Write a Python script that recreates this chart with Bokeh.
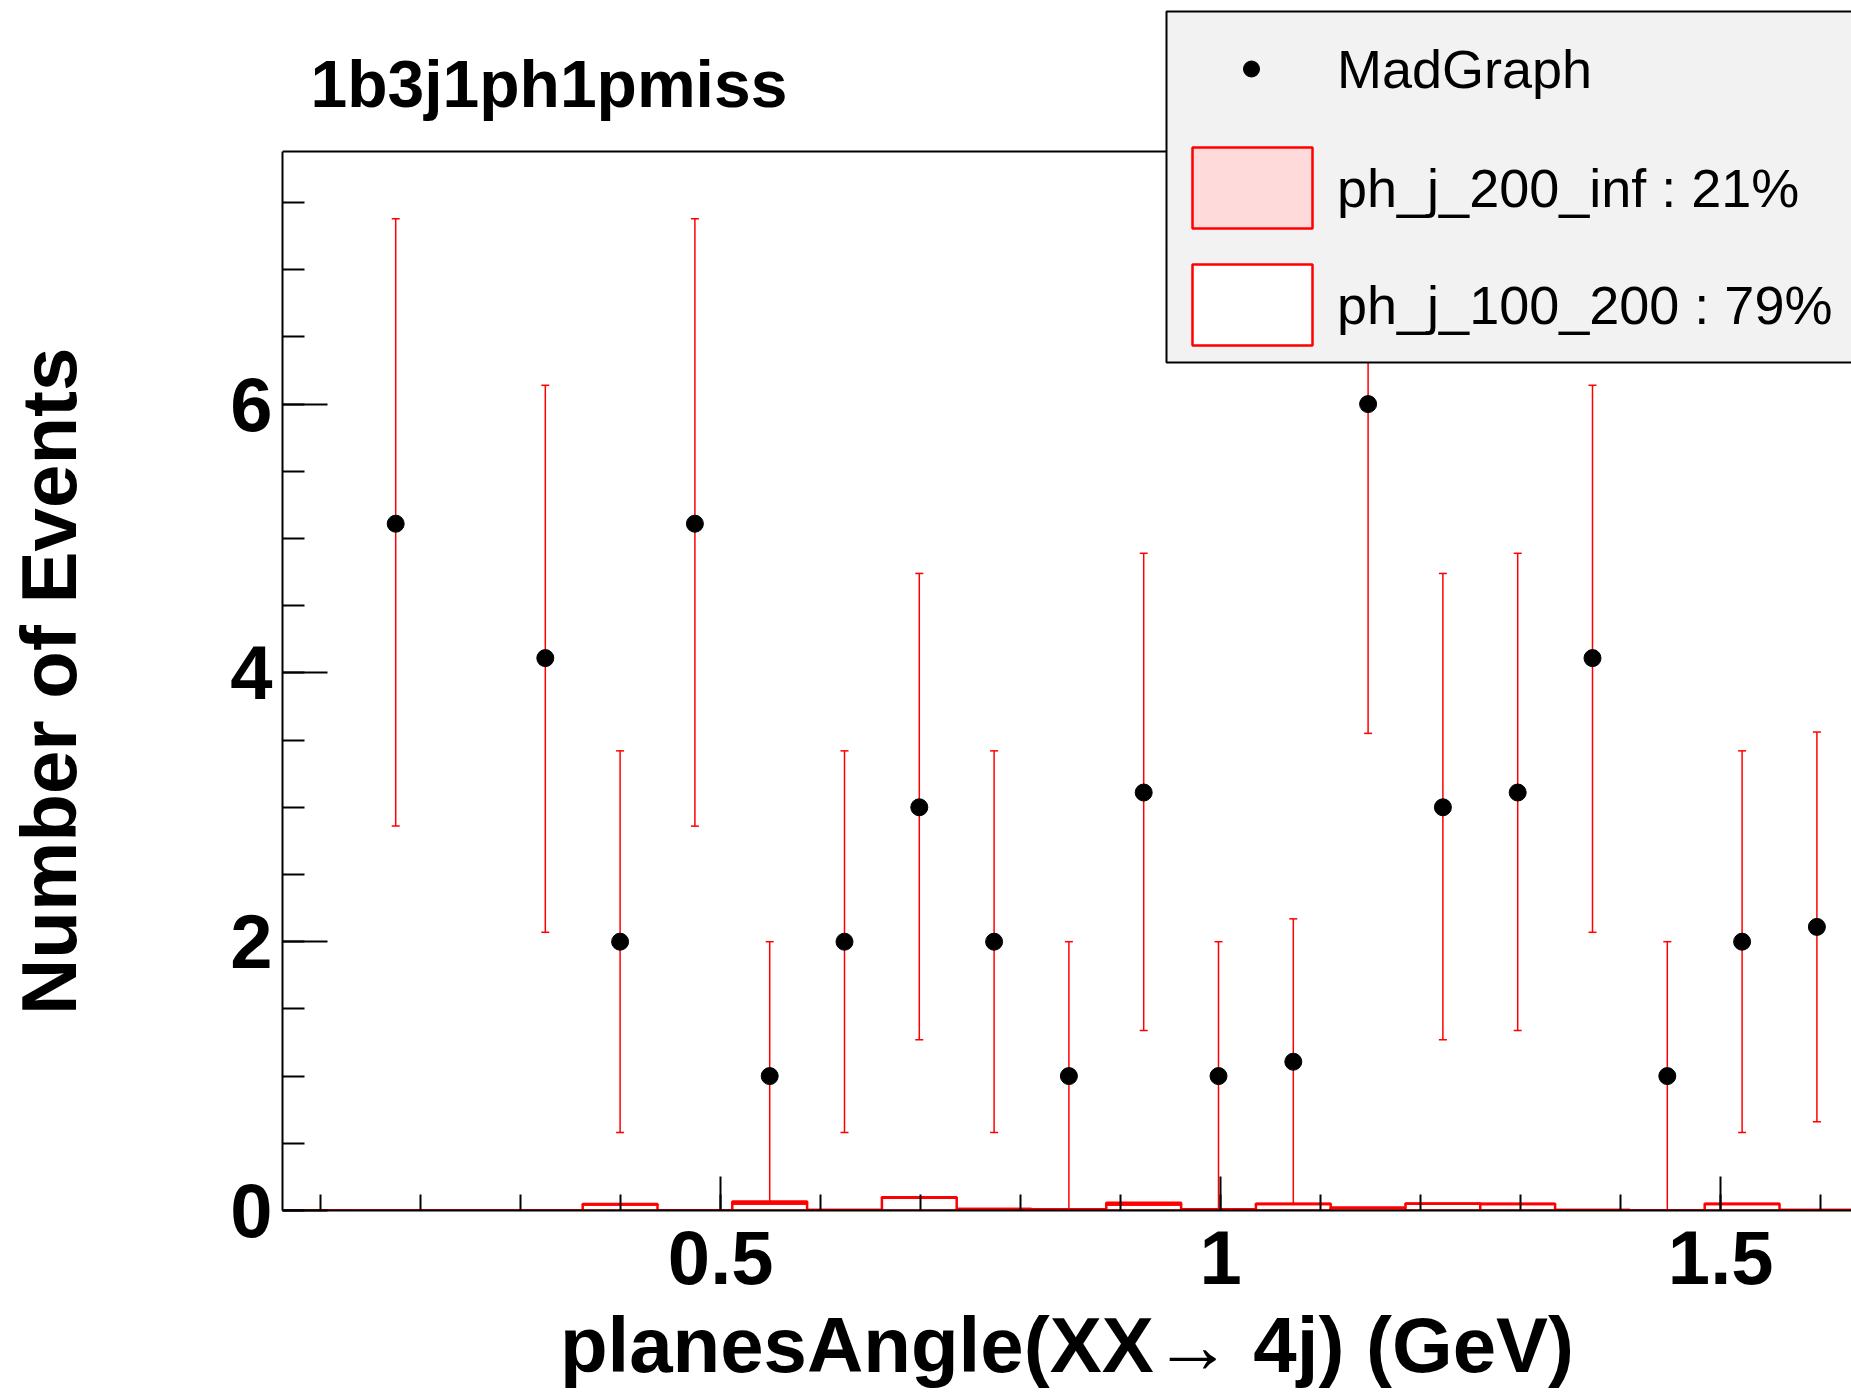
from bokeh.plotting import figure
from bokeh.models import (ColumnDataSource, Range1d, LinearAxis, SingleIntervalTicker, Span,
                          CustomJSTickFormatter, Whisker, TeeHead, Legend, LegendItem, Label,
                          BoxAnnotation)
from bokeh.embed import file_html
from bokeh.resources import INLINE

# ---- data ----
bin_edges = [0.0628, 0.1376, 0.2124, 0.2872, 0.3620, 0.4368, 0.5116, 0.5864, 0.6612, 0.7360,
             0.8108, 0.8856, 0.9604, 1.0352, 1.1100, 1.1848, 1.2596, 1.3344, 1.4092, 1.4840,
             1.5588, 1.6336]
ph_j_100_200 = [0.0, 0.0, 0.0, 0.0, 0.045, 0.002, 0.052, 0.003, 0.094, 0.012, 0.010,
                0.045, 0.010, 0.048, 0.020, 0.050, 0.048, 0.004, 0.0, 0.048, 0.004]
ph_j_200_inf = [0.0, 0.0, 0.0, 0.0, 0.003, 0.0, 0.015, 0.0, 0.004, 0.0, 0.0,
                0.012, 0.0, 0.002, 0.0, 0.002, 0.002, 0.0, 0.0, 0.002, 0.0]

mg_x = [0.1750, 0.3246, 0.3994, 0.4742, 0.5490, 0.6238, 0.6986, 0.7734, 0.8482, 0.9230,
        0.9978, 1.0726, 1.1474, 1.2222, 1.2970, 1.3718, 1.4466, 1.5214, 1.5962]
mg_y = [5.11, 4.11, 2.0, 5.11, 1.0, 2.0, 3.0, 2.0, 1.0, 3.11, 1.0, 1.107, 6.0, 3.0, 3.11,
        4.11, 1.0, 2.0, 2.11]
mg_hi = [7.38, 6.14, 3.42, 7.38, 2.0, 3.42, 4.74, 3.42, 2.0, 4.89, 2.0, 2.17, 8.45, 4.74,
         4.89, 6.14, 2.0, 3.42, 3.56]
mg_lo = [2.86, 2.07, 0.58, 2.86, 0.0, 0.58, 1.27, 0.58, 0.0, 1.34, 0.0, 0.05, 3.55, 1.27,
         1.34, 2.07, 0.0, 0.58, 0.66]

title_text = "1b3j1ph1pmiss"
x_title = "planesAngle(XX\u2192 4j) (GeV)"
y_title = "Number of Events"
legend_labels = ["MadGraph", "ph_j_200_inf : 21%", "ph_j_100_200 : 79%"]

FONT = "Liberation Sans"
Y_FRAME_TOP = 7.88   # upper end of the drawn frame (y axis)

p = figure(width=1851, height=1395, output_backend="svg", toolbar_location=None, title=None,
           x_range=Range1d(0.0618, 1.6308), y_range=Range1d(0, 9.003),
           min_border_left=282, min_border_right=0, min_border_top=0, min_border_bottom=185,
           x_axis_type=None, y_axis_type=None)
p.outline_line_color = None
p.grid.visible = False
p.background_fill_color = "white"
p.border_fill_color = "white"

# axes
xaxis = LinearAxis(ticker=SingleIntervalTicker(interval=0.5, num_minor_ticks=5),
                   formatter=CustomJSTickFormatter(code="return tick.toString()"))
xaxis.axis_label = x_title
yaxis = LinearAxis(ticker=SingleIntervalTicker(interval=2, num_minor_ticks=4),
                   bounds=(0, Y_FRAME_TOP))
# trailing no-break spaces keep the title centred on the drawn frame (not the taller canvas frame)
yaxis.axis_label = y_title + "\u00a0" * 7
for ax in (xaxis, yaxis):
    ax.axis_line_color = "black"
    ax.axis_line_width = 2
    ax.major_tick_line_color = "black"
    ax.minor_tick_line_color = "black"
    ax.major_tick_line_width = 2
    ax.minor_tick_line_width = 2
    ax.major_tick_out = 0
    ax.minor_tick_out = 0
    ax.major_label_text_font = FONT
    ax.major_label_text_font_style = "bold"
    ax.major_label_text_font_size = "76px"
    ax.major_label_text_color = "black"
    ax.axis_label_text_font = FONT
    ax.axis_label_text_font_style = "bold"
    ax.axis_label_text_font_size = "78px"
    ax.axis_label_text_color = "black"
xaxis.major_tick_in = 34
xaxis.minor_tick_in = 16
xaxis.major_label_standoff = 20
xaxis.axis_label_standoff = 14
yaxis.major_tick_in = 45
yaxis.minor_tick_in = 22
yaxis.major_label_standoff = 10
yaxis.axis_label_standoff = 134
p.add_layout(xaxis, "below")
p.add_layout(yaxis, "left")

# top line of the frame
p.add_layout(Span(location=Y_FRAME_TOP, dimension="width", line_color="black", line_width=2,
                  level="underlay"))

# stacked histogram
hsrc = ColumnDataSource(dict(
    left=bin_edges[:-1], right=bin_edges[1:],
    low=ph_j_100_200,
    high=[a + b for a, b in zip(ph_j_100_200, ph_j_200_inf)],
    zero=[0.0] * len(ph_j_100_200)))
r_white = p.quad(left="left", right="right", bottom="zero", top="low", source=hsrc,
                 fill_color="white", line_color="red", line_width=2.5)
r_pink = p.quad(left="left", right="right", bottom="low", top="high", source=hsrc,
                fill_color="#ffdada", line_color="red", line_width=2.5)

# MadGraph points with error bars
msrc = ColumnDataSource(dict(x=mg_x, y=mg_y, hi=mg_hi, lo=mg_lo))
wh = Whisker(source=msrc, base="x", upper="hi", lower="lo", dimension="height",
             line_color="red", line_width=1.5, level="underlay",
             upper_head=TeeHead(size=8, line_color="red", line_width=1.5),
             lower_head=TeeHead(size=8, line_color="red", line_width=1.5))
p.add_layout(wh)
r_mg = p.scatter("x", "y", source=msrc, size=17, color="black")

# legend: grey box + two borderless legends (different glyph boxes for dot and swatches)
box = BoxAnnotation(left=0.9458, right=1.8, bottom=6.3095, top=8.921,
                    fill_color="#f2f2f2", fill_alpha=1.0, line_color="black", line_width=2,
                    line_alpha=1.0)
p.add_layout(box)

common = dict(label_text_font=FONT, label_text_font_size="54px", label_text_color="black",
              orientation="vertical", margin=0, padding=0,
              background_fill_alpha=0.0, border_line_color=None)
leg1 = Legend(items=[LegendItem(label=legend_labels[0], renderers=[r_mg])],
              location=(949, 1101), glyph_width=40, glyph_height=81, label_height=81,
              label_standoff=66, spacing=0, **common)
leg2 = Legend(items=[LegendItem(label=legend_labels[1], renderers=[r_pink]),
                     LegendItem(label=legend_labels[2], renderers=[r_white])],
              location=(895, 855), glyph_width=150, glyph_height=101, label_height=101,
              label_standoff=10, spacing=16, **common)
p.add_layout(leg1)
p.add_layout(leg2)

title = Label(x=0.0898, y=8.385, text=title_text,
              text_font=FONT, text_font_style="bold", text_font_size="66px",
              text_align="left", text_baseline="alphabetic", text_color="black", level="overlay")
p.add_layout(title)

open("out.html", "w").write(file_html(p, INLINE))
